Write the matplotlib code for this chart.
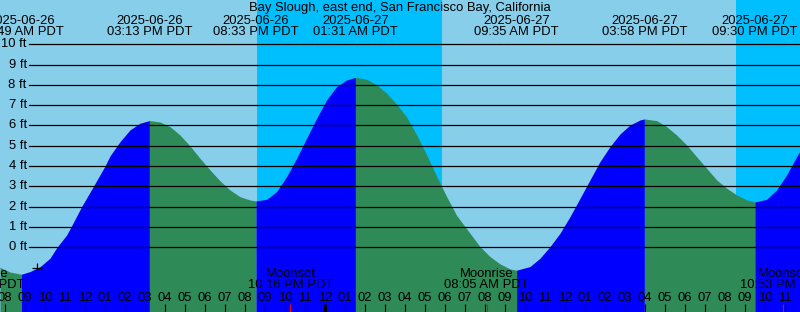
import matplotlib
matplotlib.use('Agg')
import matplotlib.pyplot as plt
import numpy as np

plt.rcParams['font.family'] = ['Liberation Sans', 'DejaVu Sans']

# hours counted from 2025-06-26 00:00 PDT, heights in feet
tide_times = [7.75, 8.25, 8.82, 9.25, 9.75, 10.25, 10.60, 11.08, 11.30, 11.83,
              12.42, 13.00, 13.25, 13.75, 14.25, 14.75, 15.22, 15.75, 16.25, 16.75,
              17.25, 17.75, 18.25, 18.75, 19.25, 19.75, 20.25, 20.55, 21.08, 21.58,
              22.08, 22.58, 23.08, 23.58, 24.08, 24.58, 25.08, 25.52, 26.08, 26.58,
              27.08, 27.58, 28.08, 28.58, 29.08, 29.58, 30.08, 30.58, 31.25, 31.75,
              32.25, 32.75, 33.25, 33.58, 34.25, 34.75, 35.25, 35.75, 36.25, 36.75,
              37.25, 37.75, 38.25, 38.75, 39.25, 39.75, 39.97, 40.58, 41.08, 41.58,
              42.08, 42.58, 43.08, 43.58, 44.08, 44.58, 45.08, 45.50, 46.08, 46.58,
              47.08, 47.58, 47.75]
tide_heights = [-0.99, -1.22, -1.33, -1.20, -0.96, -0.54, 0.00, 0.60, 1.00, 2.00,
                3.00, 4.00, 4.50, 5.20, 5.78, 6.11, 6.24, 6.17, 5.94, 5.53,
                4.99, 4.38, 3.81, 3.27, 2.82, 2.49, 2.33, 2.28, 2.36, 2.74,
                3.48, 4.38, 5.37, 6.35, 7.26, 7.91, 8.24, 8.37, 8.28, 8.00,
                7.59, 7.05, 6.42, 5.55, 4.55, 3.50, 2.50, 1.57, 0.69, 0.03,
                -0.46, -0.82, -1.07, -1.13, -0.95, -0.54, 0.03, 0.69, 1.51, 2.41,
                3.32, 4.22, 4.96, 5.58, 6.02, 6.27, 6.32, 6.24, 5.94, 5.53,
                5.04, 4.46, 3.89, 3.32, 2.91, 2.58, 2.33, 2.23, 2.36, 2.82,
                3.56, 4.46, 4.75]

extreme_times = [8.82, 15.22, 20.55, 25.52, 33.58, 39.97, 45.50]
extreme_dates = ['2025-06-26', '2025-06-26', '2025-06-26', '2025-06-27',
                 '2025-06-27', '2025-06-27', '2025-06-27']
extreme_clock = ['08:49 AM PDT', '03:13 PM PDT', '08:33 PM PDT', '01:31 AM PDT',
                 '09:35 AM PDT', '03:58 PM PDT', '09:30 PM PDT']

night_start = [20.58, 44.55]
night_end = [29.83, 48.50]

moon_times = [6.85, 22.27, 32.08, 46.88]
moon_events = ['Moonrise', 'Moonset', 'Moonrise', 'Moonset']
moon_clock = ['06:51 AM PDT', '10:16 PM PDT', '08:05 AM PDT', '10:53 PM PDT']

mark_time, mark_height = 9.62, -1.03

hours = np.arange(8, 48)
ft_levels = np.arange(0, 11)

TITLE = 'Bay Slough, east end, San Francisco Bay, California'
DAY, NIGHT = '#87CEEB', '#00BFFF'
RISE, FALL = '#0000FF', '#2E8B57'
W, H = 800, 312
FS = 9.4

fig = plt.figure(figsize=(W / 100, H / 100), dpi=100)
ax = fig.add_axes([0, 0, 1, 1])
ax.set_xlim(7.75, 47.75)
ax.set_ylim(-3.19, 12.18)
ax.set_facecolor(DAY)
for s in ax.spines.values():
    s.set_visible(False)
ax.set_xticks([])
ax.set_yticks([])

xt = ax.get_xaxis_transform()   # x in data, y in axes fraction


def fy(py):
    # pixel row from the top -> axes fraction
    return 1 - py / H


# day / night columns
for a, b in zip(night_start, night_end):
    ax.axvspan(a, b, color=NIGHT, lw=0, zorder=0)

# tide fill: blue while rising, green while falling
t = np.array(tide_times)
h = np.array(tide_heights)
rising = np.diff(h) > 0
start = 0
for i in range(1, len(rising) + 1):
    if i == len(rising) or rising[i] != rising[start]:
        seg = slice(start, i + 1)
        ax.fill_between(t[seg], h[seg], -5, color=RISE if rising[start] else FALL,
                        lw=0, zorder=1)
        start = i

# height lines
for lv in ft_levels:
    ax.axhline(lv, xmin=29.3 / W, xmax=1, color='black', lw=0.9, zorder=2)
    ax.text(26.7 / W, lv, f'{lv} ft', transform=ax.get_yaxis_transform(),
            ha='right', va='center', fontsize=FS, zorder=3)

# title + high/low labels
ax.text(0.5, fy(7.5), TITLE, transform=ax.transAxes, ha='center', va='center',
        fontsize=FS, zorder=3)
for tt, d, c in zip(extreme_times, extreme_dates, extreme_clock):
    ax.text(tt, fy(20.5), d, transform=xt, ha='center', va='center', fontsize=FS, zorder=3)
    ax.text(tt, fy(32), c, transform=xt, ha='center', va='center', fontsize=FS, zorder=3)

# hour ticks along the bottom
for hr in hours:
    lab = f'{(hr % 12) or 12:02d}'
    ax.text(hr, fy(298), lab, transform=xt, ha='center', va='center',
            fontsize=FS, zorder=3)
    ax.vlines(hr, fy(312), fy(304), transform=xt, color='black',
              lw=2.2 if hr % 24 == 0 else 0.8, zorder=3)

# moon rise/set
for mt, ev, c in zip(moon_times, moon_events, moon_clock):
    ax.text(mt, fy(274), ev, transform=xt, ha='center', va='center', fontsize=FS, zorder=3)
    ax.text(mt, fy(285.5), c, transform=xt, ha='center', va='center', fontsize=FS, zorder=3)
    ax.vlines(mt, fy(312), fy(304), transform=xt, color='red', lw=0.8, zorder=3)

ax.plot(mark_time, mark_height, marker='+', color='black', markersize=6.7,
        mew=0.9, zorder=3)

fig.savefig('out.png', dpi=100)
